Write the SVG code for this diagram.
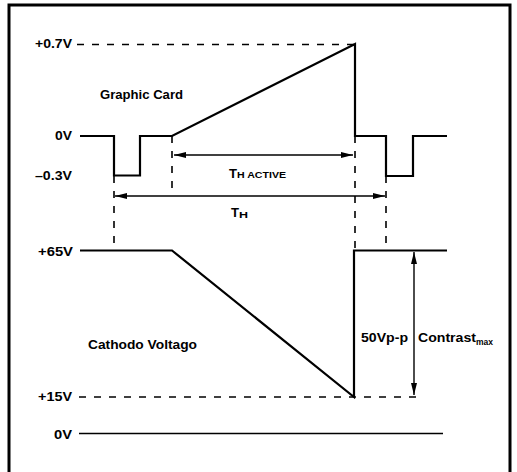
<svg xmlns="http://www.w3.org/2000/svg" width="517" height="472" viewBox="0 0 517 472">
<style>
.t{font-family:"Liberation Sans",Arial,sans-serif;font-weight:bold;font-size:12px;fill:#000}
.s{font-family:"Liberation Sans",Arial,sans-serif;font-weight:bold;font-size:8.5px;fill:#000}
.w{fill:none;stroke:#000;stroke-width:2.2;stroke-linejoin:miter}
.d{fill:none;stroke:#000;stroke-width:1.6;stroke-dasharray:7 8}
.a{fill:none;stroke:#000;stroke-width:1.4}
.th{fill:none;stroke:#000;stroke-width:1.4}
</style>
<defs>
<marker id="ah" viewBox="0 0 12 6" refX="12" refY="3" markerWidth="12" markerHeight="6" markerUnits="userSpaceOnUse" orient="auto-start-reverse">
<path d="M0,0 L12,3 L0,6 Z" fill="#000"/>
</marker>
</defs>
<rect width="517" height="472" fill="#fff"/>
<path d="M9,475 V5 H510 V475" fill="none" stroke="#000" stroke-width="3"/>
<g id="labels">
<text class="t" x="35" y="48" textLength="37" lengthAdjust="spacingAndGlyphs">+0.7V</text>
<text class="t" x="100" y="99" textLength="83" lengthAdjust="spacingAndGlyphs">Graphic Card</text>
<text class="t" x="55" y="140" textLength="17" lengthAdjust="spacingAndGlyphs">0V</text>
<text class="t" x="35" y="180" textLength="37" lengthAdjust="spacingAndGlyphs">–0.3V</text>
<text class="t" x="38" y="256" textLength="35" lengthAdjust="spacingAndGlyphs">+65V</text>
<text class="t" x="88" y="349" textLength="109" lengthAdjust="spacingAndGlyphs">Cathodo Voltago</text>
<text class="t" x="38" y="401" textLength="34" lengthAdjust="spacingAndGlyphs">+15V</text>
<text class="t" x="54" y="439" textLength="18" lengthAdjust="spacingAndGlyphs">0V</text>
<text class="t" x="361" y="342" textLength="47" lengthAdjust="spacingAndGlyphs">50Vp-p</text>
<text class="t" x="418" y="342" textLength="58" lengthAdjust="spacingAndGlyphs">Contrast</text>
<text class="s" x="476" y="345" textLength="17" lengthAdjust="spacingAndGlyphs">max</text>
<text class="t" x="229" y="178" textLength="8" lengthAdjust="spacingAndGlyphs">T</text>
<text class="s" x="237" y="178" textLength="49" lengthAdjust="spacingAndGlyphs">H ACTIVE</text>
<text class="t" x="231" y="217" textLength="8" lengthAdjust="spacingAndGlyphs">T</text>
<text class="s" x="239" y="218" textLength="9" lengthAdjust="spacingAndGlyphs">H</text>
</g>
<g id="connectors">
<line class="d" x1="77" y1="44.5" x2="355" y2="44.5"/>
<line class="d" x1="79" y1="397" x2="424" y2="397"/>
<line class="d" x1="172" y1="136" x2="172" y2="192"/>
<line class="d" x1="355" y1="136" x2="355" y2="250"/>
<line class="d" x1="114" y1="176" x2="114" y2="250"/>
<line class="d" x1="386" y1="176" x2="386" y2="250"/>
<line class="a" x1="174" y1="155" x2="353" y2="155" marker-start="url(#ah)" marker-end="url(#ah)"/>
<line class="a" x1="115" y1="196" x2="385" y2="196" marker-start="url(#ah)" marker-end="url(#ah)"/>
<line class="a" x1="414" y1="252" x2="414" y2="395" marker-start="url(#ah)" marker-end="url(#ah)"/>
<line class="th" x1="79" y1="433.5" x2="443" y2="433.5"/>
</g>
<g id="graphic-card-wave">
<path class="w" d="M80,136 H114 V175.5 H140 V136 H172 L355,44 V136 H386 V176 H413 V136 H447"/>
</g>
<g id="cathode-wave">
<path class="w" d="M80,250.5 H172 L354,397 V250.5 H447"/>
</g>
</svg>
